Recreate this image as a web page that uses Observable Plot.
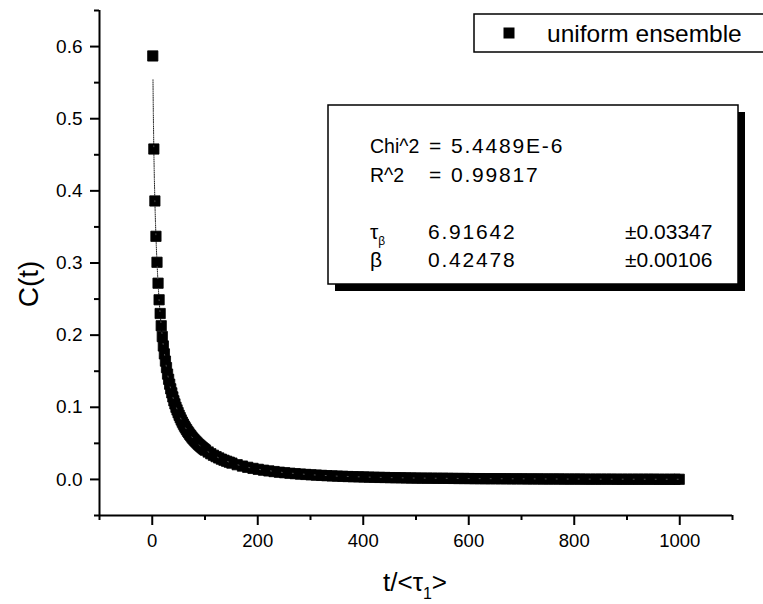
<!DOCTYPE html>
<html>
<head>
<meta charset="utf-8">
<script src="https://cdn.jsdelivr.net/npm/d3@7"></script>
<script src="https://cdn.jsdelivr.net/npm/@observablehq/plot@0.6"></script>
<style>
  html, body { margin: 0; padding: 0; background: white; }
</style>
</head>
<body>
<div id="chart"></div>
<script>
// ---- data ----
const tValues = [
  1, 3, 5, 7, 9, 11, 13, 15, 17, 19, 21, 23, 25, 27, 29,
  31, 33, 35, 37, 39, 41, 43, 45, 47, 49, 51, 53, 55, 57, 59, 61, 63, 65, 67, 69,
  71, 73, 75, 77, 79, 81, 83, 85, 87, 89, 91, 93, 95, 97, 99,
  101, 106, 111, 116, 121, 126, 131, 136, 141, 146, 151, 161, 171, 181, 191,
  201, 211, 221, 231, 241, 251, 261, 271, 281, 291,
  301, 311, 321, 331, 341, 351, 361, 371, 381, 391,
  401, 411, 421, 431, 441, 451, 461, 471, 481, 491,
  501, 511, 521, 531, 541, 551, 561, 571, 581, 591,
  601, 611, 621, 631, 641, 651, 661, 671, 681, 691,
  701, 711, 721, 731, 741, 751, 761, 771, 781, 791,
  801, 811, 821, 831, 841, 851, 861, 871, 881, 891,
  901, 911, 921, 931, 941, 951, 961, 971, 981, 991, 999
];
const cValues = [
  0.587, 0.458, 0.386, 0.337, 0.301, 0.272, 0.249, 0.230, 0.213, 0.198, 0.185, 0.174, 0.164, 0.155, 0.146,
  0.1388, 0.132, 0.1256, 0.120, 0.1144, 0.109, 0.1047, 0.100, 0.0963, 0.0925, 0.0889, 0.0856, 0.0824, 0.0794, 0.0766, 0.0739, 0.0714, 0.0690, 0.0667, 0.0646,
  0.0625, 0.0606, 0.0587, 0.0569, 0.0552, 0.0535, 0.0520, 0.0505, 0.0490, 0.0477, 0.0464, 0.0451, 0.0439, 0.0427, 0.0416,
  0.0405, 0.0380, 0.0356, 0.0335, 0.0316, 0.0298, 0.0281, 0.0266, 0.0252, 0.0239, 0.0226, 0.0204, 0.0185, 0.0168, 0.0153,
  0.0140, 0.0128, 0.0118, 0.0109, 0.0100, 0.0093, 0.0086, 0.0080, 0.0074, 0.0069,
  0.0064, 0.0060, 0.0056, 0.0052, 0.0049, 0.0046, 0.0043, 0.0040, 0.0038, 0.0036,
  0.0034, 0.0032, 0.0030, 0.0028, 0.0027, 0.0025, 0.0024, 0.0023, 0.0021, 0.0020,
  0.0019, 0.0018, 0.0018, 0.0017, 0.0016, 0.0016, 0.0015, 0.0014, 0.0013, 0.0013,
  0.0012, 0.0011, 0.0011, 0.0010, 0.0010, 0.0010, 0.0009, 0.0009, 0.0008, 0.0008,
  0.0008, 0.0007, 0.0007, 0.0007, 0.0006, 0.0006, 0.0006, 0.0006, 0.0005, 0.0005,
  0.0005, 0.0005, 0.0004, 0.0004, 0.0004, 0.0004, 0.0004, 0.0004, 0.0003, 0.0003,
  0.0003, 0.0003, 0.0003, 0.0003, 0.0003, 0.0003, 0.0002, 0.0002, 0.0002, 0.0002, 0.0002
];
// fitted stretched-exponential curve (dotted line)
const fitT = [1.4, 2, 3, 4, 5, 6, 7, 8, 9, 10, 12, 14, 16, 18, 20, 25, 30, 35, 40, 50, 60, 70, 80, 90, 100,
  120, 140, 160, 180, 200, 250, 300, 350, 400, 450, 500, 600, 700, 800, 900, 1000];
const fitC = [0.554, 0.510, 0.456, 0.4165, 0.385, 0.359, 0.337, 0.3175, 0.301, 0.2857, 0.260, 0.2387, 0.2206, 0.205, 0.1914,
  0.1638, 0.1425, 0.1256, 0.1118, 0.0907, 0.0752, 0.0635, 0.0544, 0.0470, 0.0410,
  0.0319, 0.0255, 0.0206, 0.0170, 0.0141, 0.0094, 0.0065, 0.0046, 0.0034, 0.0025, 0.0019, 0.0012, 0.0008, 0.0005, 0.0003, 0.0002];

const xMajor = [0, 200, 400, 600, 800, 1000];
const xMinor = [-100, 100, 300, 500, 700, 900, 1100];
const yMajor = [0.0, 0.1, 0.2, 0.3, 0.4, 0.5, 0.6];
const yMinor = [-0.05, 0.05, 0.15, 0.25, 0.35, 0.45, 0.55, 0.65];

const seriesName = "uniform ensemble";
const fitLabels = ["Chi^2", "R^2"];
const fitEq = ["=", "="];
const fitStats = ["5.4489E-6", "0.99817"];
const paramValues = ["6.91642", "0.42478"];
const paramErrors = ["\u00b10.03347", "\u00b10.00106"];

const points = tValues.map((t, i) => ({t, c: cValues[i]}));
const fit = fitT.map((t, i) => ({t, c: fitC[i]}));

const font = "'Liberation Sans', Arial, Helvetica, sans-serif";

const chart = Plot.plot({
  width: 763,
  height: 604,
  marginLeft: 99,
  marginRight: 31,
  marginTop: 10,
  marginBottom: 89,
  style: {fontFamily: font, background: "white", color: "black", overflow: "visible"},
  x: {domain: [-100, 1100]},
  y: {domain: [-0.05, 0.65]},
  marks: [
    Plot.axisX({ticks: xMajor, tickSize: 10, tickPadding: 8, strokeWidth: 2, fontSize: 18.5, label: null, tickFormat: d => String(d)}),
    Plot.axisX({ticks: xMinor, tickSize: 5, strokeWidth: 2, label: null, tickFormat: () => ""}),
    Plot.axisY({ticks: yMajor, tickSize: 9, tickPadding: 8, strokeWidth: 2, fontSize: 19, label: null, tickFormat: d3.format(".1f")}),
    Plot.axisY({ticks: yMinor, tickSize: 5, strokeWidth: 2, label: null, tickFormat: () => ""}),
    Plot.ruleX([-100], {strokeWidth: 2}),
    Plot.ruleY([-0.05], {strokeWidth: 2}),
    Plot.line(fit, {x: "t", y: "c", stroke: "#222", strokeWidth: 1, strokeDasharray: "1,1.2"}),
    Plot.dot(points, {x: "t", y: "c", symbol: "square", r: 5.8, fill: "black", stroke: "black", strokeWidth: 0.8}),
    Plot.line(fit, {x: "t", y: "c", stroke: "white", strokeWidth: 1, strokeOpacity: 0.3, strokeDasharray: "1,10"})
  ]
});

const svg = d3.select(chart);

// axis titles
const xt = svg.append("text")
  .attr("x", 415).attr("y", 591)
  .attr("text-anchor", "middle")
  .attr("font-family", font).attr("font-size", 26).attr("fill", "black");
xt.append("tspan").text("t/<\u03c4");
xt.append("tspan").attr("dy", 8).attr("font-size", 16).text("1");
xt.append("tspan").attr("dy", -8).text(">");

svg.append("text")
  .attr("transform", "translate(38,284) rotate(-90)")
  .attr("text-anchor", "middle")
  .attr("font-family", font).attr("font-size", 28).attr("fill", "black")
  .text("C(t)");

// legend
const lg = svg.append("g").attr("text-anchor", "start");
lg.append("rect").attr("x", 474).attr("y", 14).attr("width", 300).attr("height", 38)
  .attr("fill", "white").attr("stroke", "black").attr("stroke-width", 1.5);
lg.append("rect").attr("x", 503.5).attr("y", 27.5).attr("width", 11).attr("height", 11).attr("fill", "black");
lg.append("text").attr("x", 547).attr("y", 42).attr("text-anchor", "start").attr("font-family", font).attr("font-size", 24.5).attr("fill", "black").text(seriesName);

// fit results box
const bx = svg.append("g").attr("font-family", font).attr("fill", "black").attr("text-anchor", "start");
bx.append("rect").attr("x", 335).attr("y", 112).attr("width", 410).attr("height", 179).attr("fill", "black");
bx.append("rect").attr("x", 328).attr("y", 105).attr("width", 410).attr("height", 179)
  .attr("fill", "white").attr("stroke", "black").attr("stroke-width", 1.5);
const rowY = [153, 182];
fitLabels.forEach((s, i) => {
  bx.append("text").attr("x", 370).attr("y", rowY[i]).attr("text-anchor", "start").attr("font-size", 19.5).text(s);
  bx.append("text").attr("x", 429).attr("y", rowY[i]).attr("text-anchor", "start").attr("font-size", 21).text(fitEq[i]);
  bx.append("text").attr("x", 451).attr("y", rowY[i]).attr("text-anchor", "start").attr("font-size", 21).attr("letter-spacing", 1.8).text(fitStats[i]);
});
const pY = [239, 267];
const tau = bx.append("text").attr("x", 370).attr("y", pY[0]).attr("text-anchor", "start").attr("font-size", 21);
tau.append("tspan").text("\u03c4");
tau.append("tspan").attr("dy", 6).attr("font-size", 12).text("\u03b2");
bx.append("text").attr("x", 370).attr("y", pY[1]).attr("text-anchor", "start").attr("font-size", 21).text("\u03b2");
paramValues.forEach((s, i) => {
  bx.append("text").attr("x", 428).attr("y", pY[i]).attr("text-anchor", "start").attr("font-size", 21).attr("letter-spacing", 1.8).text(s);
  bx.append("text").attr("x", 625).attr("y", pY[i]).attr("text-anchor", "start").attr("font-size", 21).text(paramErrors[i]);
});

document.getElementById("chart").appendChild(chart);
</script>
</body>
</html>
